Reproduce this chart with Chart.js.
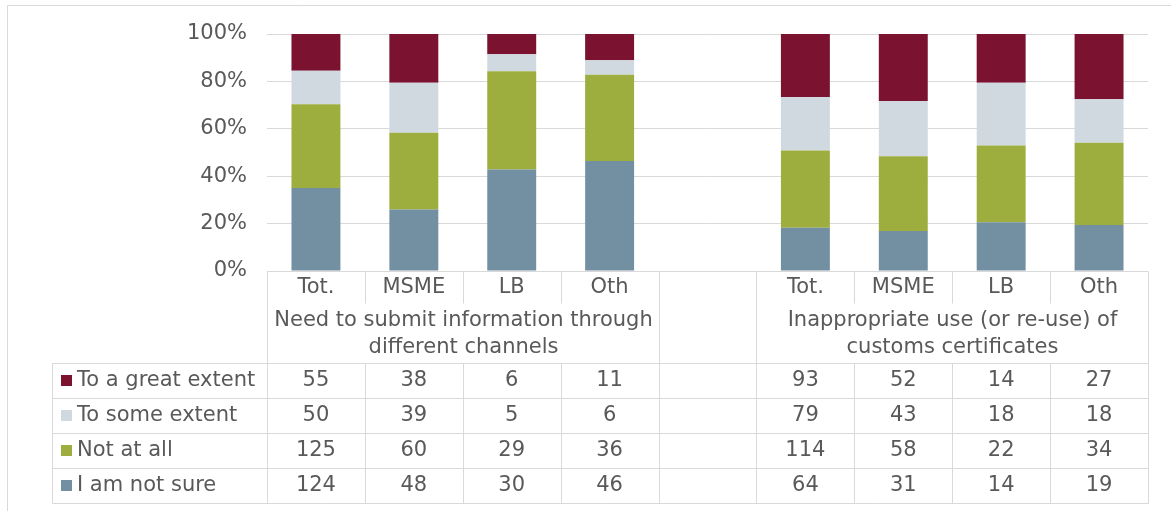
<!DOCTYPE html>
<html>
<head>
<meta charset="utf-8">
<script src="https://cdn.jsdelivr.net/npm/chart.js@4"></script>
<style>
  html, body { margin: 0; padding: 0; background: #fff; }
  #wrap { width: 1171px; height: 511px; position: relative; }
</style>
</head>
<body>
<div id="wrap"><canvas id="chart"></canvas></div>
<script>
// categories (blank slot separates the two groups)
const categories = ['Tot.', 'MSME', 'LB', 'Oth', '', 'Tot.', 'MSME', 'LB', 'Oth'];
const groupLabels = [
    ['Need to submit information through', 'different channels'],
    ['Inappropriate use (or re-use) of', 'customs certificates']
];

// counts
const greatExtent = [55, 38, 6, 11, null, 93, 52, 14, 27];
const someExtent = [50, 39, 5, 6, null, 79, 43, 18, 18];
const notAtAll = [125, 60, 29, 36, null, 114, 58, 22, 34];
const notSure = [124, 48, 30, 46, null, 64, 31, 14, 19];

const yTicks = [0, 20, 40, 60, 80, 100];

const seriesNames = ['To a great extent', 'To some extent', 'Not at all', 'I am not sure'];
const seriesColors = ['#7A1230', '#D0D9E0', '#9DAE3E', '#7390A3'];

const textColor = '#595959';
const lineColor = '#D9D9D9';
const font = { family: "'DejaVu Sans', Verdana, sans-serif", size: 21 };

// share of each answer per category (100% stacked)
const totals = categories.map((c, i) =>
    greatExtent[i] === null ? null : greatExtent[i] + someExtent[i] + notAtAll[i] + notSure[i]);
const toPct = arr => arr.map((v, i) => v === null ? null : v / totals[i] * 100);

const tableRows = [greatExtent, someExtent, notAtAll, notSure];

// ===== DATA TABLE + FRAME =====
const tablePlugin = {
    id: 'dataTable',
    afterDraw(chart) {
        const ctx = chart.ctx;
        const x = chart.scales.x;
        const area = chart.chartArea;
        const w = x.getPixelForValue(1) - x.getPixelForValue(0);
        const edges = [];
        for (let i = 0; i <= categories.length; i++) {
            edges.push(Math.round(x.getPixelForValue(0) - w / 2 + i * w) + 0.5);
        }
        const top = Math.round(area.bottom) + 0.5;
        const headBottom = top + 32;
        const groupBottom = top + 92;
        const rowH = 35;
        const tableBottom = groupBottom + rowH * 4;
        const tableLeft = 52.5;

        ctx.save();
        ctx.strokeStyle = lineColor;
        ctx.lineWidth = 1;
        ctx.beginPath();
        // outer frame (top + left)
        ctx.moveTo(7.5, 5.5); ctx.lineTo(1171, 5.5);
        ctx.moveTo(7.5, 5.5); ctx.lineTo(7.5, 511);
        // horizontal lines
        ctx.moveTo(edges[0], top); ctx.lineTo(edges[9], top);
        for (let r = 0; r <= 4; r++) {
            const yy = groupBottom + r * rowH;
            ctx.moveTo(tableLeft, yy); ctx.lineTo(edges[9], yy);
        }
        // vertical lines
        ctx.moveTo(tableLeft, groupBottom); ctx.lineTo(tableLeft, tableBottom);
        [0, 4, 5, 9].forEach(i => { ctx.moveTo(edges[i], top); ctx.lineTo(edges[i], tableBottom); });
        [1, 2, 3, 6, 7, 8].forEach(i => {
            ctx.moveTo(edges[i], top); ctx.lineTo(edges[i], headBottom);
            ctx.moveTo(edges[i], groupBottom); ctx.lineTo(edges[i], tableBottom);
        });
        ctx.stroke();

        ctx.fillStyle = textColor;
        ctx.font = font.size + 'px ' + font.family;
        ctx.textAlign = 'center';
        ctx.textBaseline = 'middle';
        // category labels
        categories.forEach((c, i) => ctx.fillText(c, x.getPixelForValue(i), top + 16));
        // group labels
        const g1 = (edges[0] + edges[4]) / 2, g2 = (edges[5] + edges[9]) / 2;
        groupLabels[0].forEach((t, k) => ctx.fillText(t, g1, top + 49 + k * 27));
        groupLabels[1].forEach((t, k) => ctx.fillText(t, g2, top + 49 + k * 27));
        // values
        tableRows.forEach((row, r) => {
            const cy = groupBottom + r * rowH + rowH / 2;
            row.forEach((v, i) => { if (v !== null) ctx.fillText(String(v), x.getPixelForValue(i), cy); });
            ctx.fillStyle = seriesColors[r];
            ctx.fillRect(61, cy - 6, 11, 11);
            ctx.fillStyle = textColor;
            ctx.textAlign = 'left';
            ctx.fillText(seriesNames[r], 77, cy);
            ctx.textAlign = 'center';
        });
        ctx.restore();
    }
};

new Chart(document.getElementById('chart'), {
    type: 'bar',
    data: {
        labels: categories,
        datasets: [
            { label: seriesNames[3], data: toPct(notSure), backgroundColor: seriesColors[3] },
            { label: seriesNames[2], data: toPct(notAtAll), backgroundColor: seriesColors[2] },
            { label: seriesNames[1], data: toPct(someExtent), backgroundColor: seriesColors[1] },
            { label: seriesNames[0], data: toPct(greatExtent), backgroundColor: seriesColors[0] }
        ]
    },
    options: {
        responsive: true,
        maintainAspectRatio: false,
        animation: false,
        layout: { padding: { top: 34, right: 23, bottom: 240, left: 0 } },
        datasets: { bar: { barPercentage: 0.5, categoryPercentage: 1 } },
        plugins: { legend: { display: false }, tooltip: { enabled: false } },
        scales: {
            x: { stacked: true, display: false },
            y: {
                stacked: true,
                min: 0,
                max: 100,
                afterFit: s => { s.width = 267; },
                afterBuildTicks: s => { s.ticks = yTicks.map(v => ({ value: v })); },
                ticks: { color: textColor, font: font, padding: 20, callback: v => v + '%' },
                grid: { color: lineColor, drawTicks: false },
                border: { display: false }
            }
        }
    },
    plugins: [tablePlugin]
});
</script>
</body>
</html>
